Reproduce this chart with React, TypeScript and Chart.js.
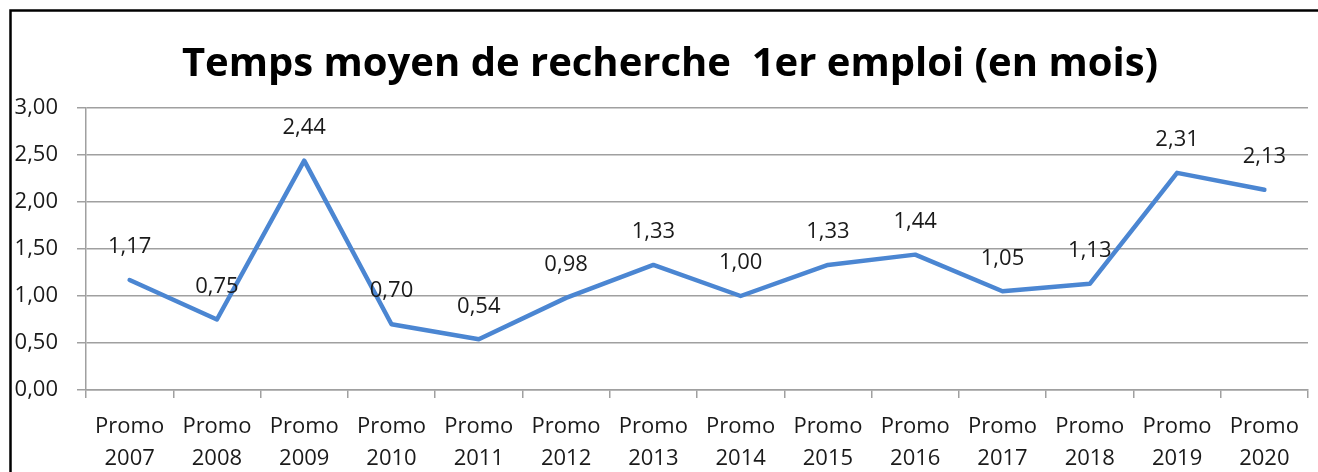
import React, { useEffect, useRef } from "react";
import { Chart, registerables } from "chart.js";

Chart.register(...registerables);

const TITLE = "Temps moyen de recherche  1er emploi (en mois)";
const CATEGORIES: string[][] = [
  ["Promo", "2007"], ["Promo", "2008"], ["Promo", "2009"], ["Promo", "2010"],
  ["Promo", "2011"], ["Promo", "2012"], ["Promo", "2013"], ["Promo", "2014"],
  ["Promo", "2015"], ["Promo", "2016"], ["Promo", "2017"], ["Promo", "2018"],
  ["Promo", "2019"], ["Promo", "2020"],
];
const VALUES: number[] = [1.17, 0.75, 2.44, 0.7, 0.54, 0.98, 1.33, 1.0, 1.33, 1.44, 1.05, 1.13, 2.31, 2.13];
const Y_MIN = 0;
const Y_MAX = 3;
const Y_STEP = 0.5;

const fmt = (v: number) => v.toFixed(2).replace(".", ",");

const TICK_FONT = { family: "'Open Sans', sans-serif", size: 22 };

const framePlugin = {
  id: "frame",
  beforeDraw(chart: any) {
    const ctx = chart.ctx;
    ctx.save();
    ctx.fillStyle = "#ffffff";
    ctx.fillRect(0, 0, chart.width, chart.height);
    ctx.strokeStyle = "#000000";
    ctx.lineWidth = 2.5;
    ctx.strokeRect(10.5, 10.5, chart.width + 50, chart.height + 50);
    ctx.restore();
  },
};

const titlePlugin = {
  id: "customTitle",
  afterDraw(chart: any) {
    const ctx = chart.ctx;
    ctx.save();
    ctx.font = `bold 40px 'Open Sans', sans-serif`;
    ctx.fillStyle = "#000000";
    ctx.textAlign = "center";
    ctx.textBaseline = "alphabetic";
    ctx.fillText(TITLE, 670, 76);
    ctx.restore();
  },
};

const valueLabelPlugin = {
  id: "valueLabels",
  afterDatasetsDraw(chart: any) {
    const ctx = chart.ctx;
    const meta = chart.getDatasetMeta(0);
    const data = chart.data.datasets[0].data as number[];
    ctx.save();
    ctx.font = `22px 'Open Sans', sans-serif`;
    ctx.fillStyle = "#1a1a1a";
    ctx.textAlign = "center";
    ctx.textBaseline = "middle";
    meta.data.forEach((pt: any, i: number) => {
      ctx.fillText(fmt(data[i]), pt.x, pt.y - 33);
    });
    ctx.restore();
  },
};

export default function App() {
  const ref = useRef<HTMLCanvasElement | null>(null);

  useEffect(() => {
    if (!ref.current) return;
    const chart = new Chart(ref.current, {
      type: "line",
      data: {
        labels: CATEGORIES,
        datasets: [
          {
            data: VALUES,
            borderColor: "#4b86d2",
            borderWidth: 4.5,
            pointRadius: 0,
            tension: 0,
            borderCapStyle: "round",
            borderJoinStyle: "round",
            fill: false,
          },
        ],
      },
      options: {
        responsive: false,
        animation: false,
        layout: { padding: { left: 10, right: 10, top: 108, bottom: 0 } },
        plugins: {
          legend: { display: false },
          tooltip: { enabled: false },
          title: { display: false },
        },
        scales: {
          x: {
            type: "category",
            offset: true,
            grid: {
              offset: true,
              drawOnChartArea: false,
              drawTicks: true,
              tickLength: 8,
              color: "#a0a0a0",
              lineWidth: 1.5,
            },
            border: { color: "#a0a0a0", width: 1.5 },
            ticks: {
              color: "#1a1a1a",
              font: { ...TICK_FONT, lineHeight: 1.45 },
              padding: 13,
              maxRotation: 0,
              autoSkip: false,
            },
            afterFit: (s: any) => {
              s.height = 82;
            },
          },
          y: {
            min: Y_MIN,
            max: Y_MAX,
            grid: { color: "#a0a0a0", tickLength: 9, lineWidth: 1.5 },
            border: { color: "#a0a0a0", width: 1.5 },
            ticks: {
              stepSize: Y_STEP,
              color: "#1a1a1a",
              font: TICK_FONT,
              padding: 19,
              callback: (v: any) => fmt(Number(v)),
            },
            afterFit: (s: any) => {
              s.width = 76;
            },
          },
        },
      },
      plugins: [framePlugin, valueLabelPlugin, titlePlugin],
    } as any);
    return () => chart.destroy();
  }, []);

  return (
    <div style={{ position: "absolute", left: 0, top: 0, width: 1318, height: 472 }}>
      <canvas ref={ref} width={1318} height={472} />
    </div>
  );
}
